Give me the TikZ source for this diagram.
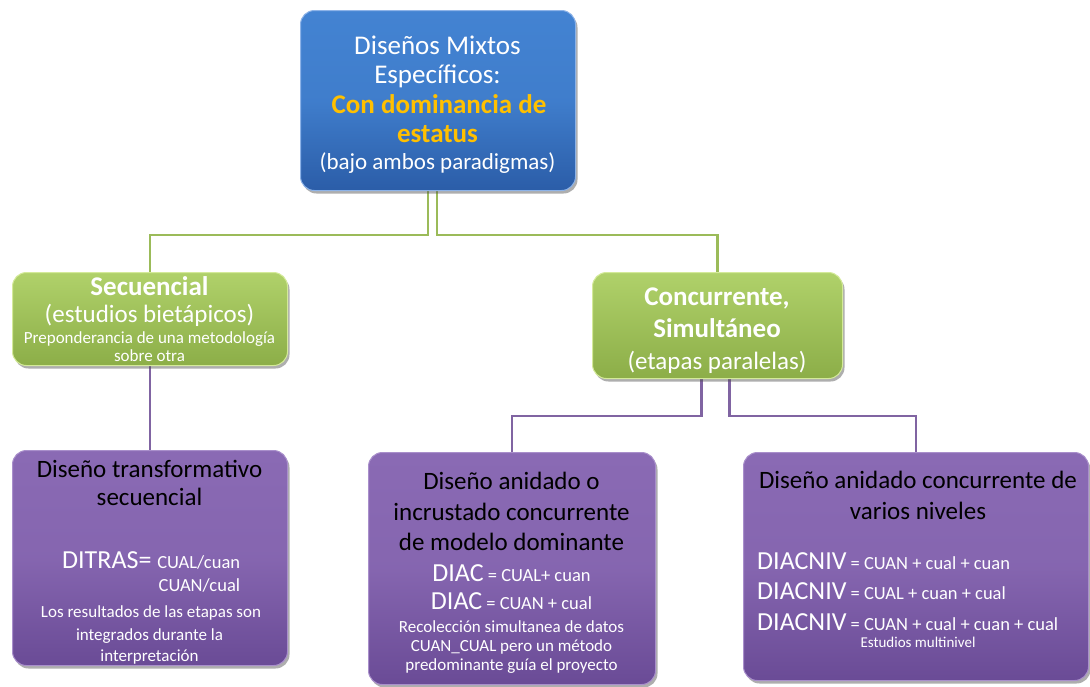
\documentclass[tikz,border=0pt]{standalone}
\usepackage{fontspec}
\setmainfont{Carlito}
\usetikzlibrary{shadows}
\pgfdeclarelayer{bg}
\pgfsetlayers{bg,main}
\definecolor{bluetop}{HTML}{4383D2}
\definecolor{bluebot}{HTML}{2B5DA8}
\definecolor{blueedge}{HTML}{8DB3E8}
\definecolor{greentop}{HTML}{B0D16A}
\definecolor{greenbot}{HTML}{8CAE48}
\definecolor{greenedge}{HTML}{D4EA9A}
\definecolor{greenline}{HTML}{9BBB59}
\definecolor{purptop}{HTML}{8A6AB4}
\definecolor{purpbot}{HTML}{6A4B96}
\definecolor{purpedge}{HTML}{A98FCB}
\definecolor{purpline}{HTML}{8064A2}
\definecolor{gold}{HTML}{FFC000}
\tikzset{
  box/.style={rectangle, rounded corners=14pt, anchor=north west, inner sep=0pt,
    drop shadow={shadow xshift=2pt, shadow yshift=-3pt, opacity=0.45, fill=black!70}},
  bluebox/.style={box, top color=bluetop, bottom color=bluebot, middle color=bluetop!85!bluebot, draw=blueedge, line width=1pt},
  greenbox/.style={box, top color=greentop, bottom color=greenbot, draw=greenedge, line width=1pt},
  purpbox/.style={box, top color=purptop, bottom color=purpbot, middle color=purptop!85!purpbot, draw=purpedge, line width=1pt},
  gconn/.style={draw=greenline, line width=2.2pt},
  pconn/.style={draw=purpline, line width=2.2pt},
  txt/.style={anchor=base, inner sep=0pt, text=white},
  big/.style={font=\fontsize{27}{31}\selectfont},
  bigb/.style={font=\fontsize{27}{31}\selectfont\bfseries},
  mid/.style={font=\fontsize{25}{29}\selectfont},
  med/.style={font=\fontsize{23}{27}\selectfont},
  sml/.style={font=\fontsize{17}{20}\selectfont},
  tiny/.style={font=\fontsize{17}{20}\selectfont},
}
\newcommand{\bigtxt}{\fontsize{26}{30}\selectfont}
\newcommand{\smtxt}{\fontsize{18.5}{22}\selectfont}
\begin{document}
\begin{tikzpicture}[x=1pt,y=-1pt]
\begin{pgfonlayer}{bg}
\useasboundingbox[fill=white] (0,0) rectangle (1090,686);
\end{pgfonlayer}

% boxes
\node[bluebox, minimum width=275pt, minimum height=180pt] (top) at (300,10) {};
\node[greenbox, minimum width=275pt, minimum height=93pt] (sec) at (12,272) {};
\node[greenbox, minimum width=250pt, minimum height=106pt] (conc) at (592,272) {};
\node[purpbox, minimum width=275pt, minimum height=215pt] (lft) at (12,450) {};
\node[purpbox, minimum width=287pt, minimum height=232pt] (mid) at (368,452) {};
\node[purpbox, minimum width=345pt, minimum height=228pt] (rgt) at (743,452) {};

% connectors
\begin{pgfonlayer}{bg}
\draw[gconn] ([xshift=-10pt]top.south) -- ++(0,44) -| (sec.north);
\draw[gconn] ([xshift=-1pt]top.south) -- ++(0,44) -| (conc.north);
\draw[pconn] (sec.south) -- (lft.north);
\draw[pconn] ([xshift=-16pt]conc.south) -- ++(0,37) -| (mid.north);
\draw[pconn] ([xshift=12pt]conc.south) -- ++(0,37) -| (rgt.north);
\end{pgfonlayer}

% top box text
\node[txt, big] (t1) at (437.5,54) {Diseños Mixtos};
\node[txt, big] (t2) at (437.5,83) {Específicos:};
\node[txt, bigb, text=gold] (t3) at (439,113) {Con dominancia de};
\node[txt, bigb, text=gold] (t4) at (437.5,142) {estatus};
\node[txt, med] (t5) at (437.5,169) {(bajo ambos paradigmas)};

% secuencial text
\node[txt, bigb] (s1) at (149.5,295) {Secuencial};
\node[txt, mid] (s2) at (149.5,322) {(estudios bietápicos)};
\node[txt, sml] (s3) at (149.5,343) {Preponderancia de una metodología};
\node[txt, sml] (s4) at (149.5,361) {sobre otra};

% concurrente text
\node[txt, bigb] (c1) at (717,305) {Concurrente,};
\node[txt, bigb] (c2) at (717,337) {Simultáneo};
\node[txt, mid] (c3) at (717,369) {(etapas paralelas)};

% left purple text
\node[txt, mid, text=black] (l1) at (149.5,477) {Diseño transformativo};
\node[txt, mid, text=black] (l2) at (149.5,505) {secuencial};
\node[txt, anchor=base west] (l3) at (62,568) {\bigtxt DITRAS=\ \smtxt CUAL/cuan};
\node[txt, anchor=base east, font=\smtxt] (l4) at (l3.base east |- 0,591) {CUAN/cual};
\node[txt, tiny] (l5) at (151,617) {Los resultados de las etapas son};
\node[txt, tiny] (l6) at (149.5,640) {integrados durante la};
\node[txt, tiny] (l7) at (149.5,661) {interpretación};

% middle purple text
\node[txt, mid, text=black] (m1) at (511.5,489) {Diseño anidado o};
\node[txt, mid, text=black] (m2) at (511.5,520) {incrustado concurrente};
\node[txt, mid, text=black] (m3) at (511.5,550) {de modelo dominante};
\node[txt] (m4) at (511.5,581) {\bigtxt DIAC\smtxt\ = CUAL+ cuan};
\node[txt] (m5) at (511.5,609) {\bigtxt DIAC\smtxt\ = CUAN + cual};
\node[txt, tiny] (m6) at (511.5,632) {Recolección simultanea de datos};
\node[txt, tiny] (m7) at (511.5,651) {CUAN\_CUAL pero un método};
\node[txt, tiny] (m8) at (511.5,670) {predominante guía el proyecto};

% right purple text
\node[txt, mid, text=black] (r1) at (918,488) {Diseño anidado concurrente de};
\node[txt, mid, text=black] (r2) at (918,519) {varios niveles};
\node[txt, anchor=base west] (r3) at (757,569) {\bigtxt DIACNIV\smtxt\ = CUAN + cual + cuan};
\node[txt, anchor=base west] (r4) at (757,599) {\bigtxt DIACNIV\smtxt\ = CUAL + cuan + cual};
\node[txt, anchor=base west] (r5) at (757,630) {\bigtxt DIACNIV\smtxt\ = CUAN + cual + cuan + cual};
\node[txt, font=\fontsize{15}{18}\selectfont] (r6) at (918,647) {Estudios multinivel};
\end{tikzpicture}
\end{document}
